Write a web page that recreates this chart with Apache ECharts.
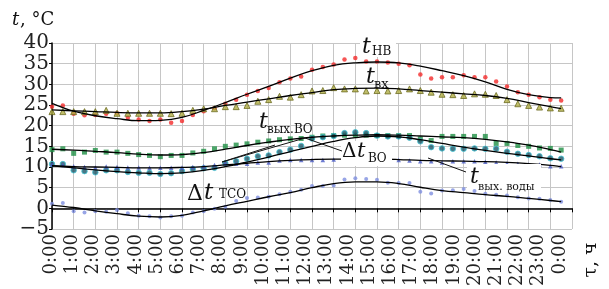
<!DOCTYPE html>
<html>
<head>
<meta charset="utf-8">
<title>t, °C</title>
<script src="https://cdn.jsdelivr.net/npm/echarts@6/dist/echarts.min.js"></script>
<style>
  html, body { margin: 0; padding: 0; background: #fff; }
  #chart { width: 609px; height: 289px; }
</style>
</head>
<body>
<div id="chart"></div>
<script>
// half-hour measurements
var hours = [0,0.5,1,1.5,2,2.5,3,3.5,4,4.5,5,5.5,6,6.5,7,7.5,8,8.5,9,9.5,10,10.5,11,11.5,
             12,12.5,13,13.5,14,14.5,15,15.5,16,16.5,17,17.5,18,18.5,19,19.5,20,20.5,21,21.5,22,22.5,23,23.5];
var tNV = [24.6,24.9,22.9,22.5,22.6,22.9,23.0,21.9,21.5,21.1,21.5,20.7,21.1,22.6,23.5,24.2,25.3,26.3,27.5,28.4,29.1,30.5,31.4,31.9,
           33.5,34.2,34.8,36.0,36.4,35.5,35.5,35.3,35.0,34.6,32.4,31.4,31.7,31.7,32.2,31.7,31.7,30.7,29.5,28.1,27.5,26.9,26.3,26.1];
var tVX = [23.4,23.4,23.4,23.4,23.4,23.7,23.0,23.0,23.0,23.0,23.0,22.9,23.0,23.7,24.1,24.1,24.6,24.6,24.9,25.9,26.3,27.1,26.9,27.5,
           28.4,28.5,29.2,28.9,28.9,28.4,28.5,28.4,28.5,28.9,28.5,28.1,27.6,27.5,27.3,27.7,27.6,27.3,26.3,25.3,24.9,24.5,24.3,24.2];
var tOutVO = [14.2,14.4,13.3,13.6,14.0,13.6,13.6,13.3,13.0,12.8,12.5,12.8,12.8,13.4,13.8,14.4,15.0,15.3,15.6,16.0,16.3,16.6,16.8,16.9,
              17.2,17.5,17.6,17.7,17.7,17.7,17.6,17.6,17.6,17.6,16.8,16.4,17.4,17.4,17.4,17.4,17.4,15.7,15.7,15.2,15.0,14.6,14.5,14.1];
var dtVO = [10.7,10.7,9.2,9.0,8.7,9.2,9.2,8.8,8.6,8.6,8.3,8.5,9.0,9.5,9.7,9.8,10.9,11.4,12.0,12.6,12.8,13.6,14.2,15.1,
            16.9,17.2,17.5,18.2,18.4,18.2,17.6,17.4,17.4,17.1,16.2,14.8,14.5,14.4,14.4,14.5,14.4,14.4,13.7,13.2,12.9,12.6,12.1,12.0];
var tOutWater = [10.6,10.5,10.2,10.0,9.9,10.1,10.0,9.9,9.9,9.8,9.8,9.8,9.9,10.0,10.2,10.5,10.9,10.8,10.8,11.1,11.1,11.6,11.7,11.7,
                 11.7,11.7,11.8,11.8,11.8,11.8,11.7,11.7,11.7,11.6,11.4,11.4,11.1,11.4,11.4,11.4,11.3,11.1,10.9,10.8,10.6,10.6,10.2,10.2];
var dtTSO = [1.1,1.3,-0.7,-1.0,-0.7,-0.8,-0.4,-1.2,-1.8,-1.9,-2.2,-1.9,-1.8,-1.0,-0.7,-0.1,0.4,1.8,2.5,2.6,2.8,3.4,4.0,4.5,
             5.4,5.4,5.5,7.0,7.3,7.1,6.9,6.2,6.1,6.1,4.0,3.6,4.3,4.4,4.7,4.2,3.5,3.3,3.1,2.7,2.4,2.3,2.0,1.6];

// trend curves
var curveHours = [0,1,2,3,4,5,6,7,8,9,10,11,12,13,14,15,16,17,18,19,20,21,22,23,23.5];
var tNVCurve = [25.4,23.5,22.4,21.7,21.2,21.3,22.0,23.7,25.6,27.6,29.5,31.5,33.3,34.6,35.2,35.4,35.2,34.4,33.3,32.1,30.6,28.8,27.5,26.8,26.7];
var tVXCurve = [23.8,23.6,23.4,23.2,23.1,23.1,23.4,24.0,24.9,25.7,26.5,27.3,28.0,28.7,29.0,29.1,28.9,28.5,28.1,27.7,27.3,26.6,25.6,24.6,24.1];
var tOutVOCurve = [14.3,14.1,13.8,13.5,13.1,12.9,13.0,13.5,14.3,15.2,16.0,16.7,17.2,17.5,17.7,17.8,17.7,17.5,17.3,17.1,16.7,16.1,15.3,14.2,13.6];
var dtVOCurve = [10.3,9.8,9.3,8.9,8.6,8.4,8.6,9.2,10.1,11.2,12.4,13.7,15.0,16.2,17.1,17.5,17.3,16.6,15.7,14.8,14.0,13.3,12.7,12.0,11.7];
var tOutWaterCurve = [10.3,10.1,10.0,9.9,9.8,9.8,9.9,10.1,10.5,10.9,11.3,11.6,11.8,11.9,11.9,11.9,11.8,11.6,11.5,11.4,11.3,11.1,10.8,10.4,10.1];
var dtTSOCurve = [0.8,0.2,-0.6,-1.3,-1.9,-2.1,-1.7,-0.6,0.6,1.7,2.8,3.8,5.0,6.0,6.4,6.4,6.0,5.1,4.3,3.8,3.3,2.9,2.4,1.9,1.6];

var FONT = 'DejaVu Serif';

function pairs(xs, ys) {
    return ys.map(function (v, i) { return [xs[i], v]; });
}
function points(name, ys, symbol, size, color, border) {
    return {
        name: name, type: 'scatter', data: pairs(hours, ys),
        symbol: symbol, symbolSize: size, z: 2,
        itemStyle: { color: color, borderColor: border || color, borderWidth: border ? 1 : 0 }
    };
}
function trend(ys) {
    return {
        type: 'line', data: pairs(curveHours, ys), smooth: 0.4, showSymbol: false, z: 3,
        lineStyle: { color: '#000', width: 1.3 }
    };
}
function label(x, y, text, size, italic) {
    return { type: 'text', x: x, y: y, z: 20,
        style: { text: text, font: (italic ? 'italic ' : '') + size + 'px "' + FONT + '"', fill: '#111',
                 textAlign: 'left', textVerticalAlign: 'bottom', align: 'left', verticalAlign: 'bottom' } };
}
function whiteBox(x, y, w, h) {
    return { type: 'rect', z: 15, shape: { x: x, y: y, width: w, height: h }, style: { fill: '#fff' } };
}
function leader(x1, y1, x2, y2) {
    return { type: 'line', z: 16, shape: { x1: x1, y1: y1, x2: x2, y2: y2 }, style: { stroke: '#111', lineWidth: 1 } };
}

var myChart = echarts.init(document.getElementById('chart'));
var option = {
    animation: false,
    grid: [
        { left: 52, top: 43, width: 520, height: 186 },
        { left: 51, top: 43, width: 509, height: 186 }
    ],
    xAxis: [
        { gridIndex: 0, type: 'value', min: 0, max: 24, interval: 1,
          axisLine: { onZero: true, lineStyle: { color: '#000', width: 1.5 } },
          axisTick: { show: true, length: 4, lineStyle: { color: '#000', width: 1 } },
          axisLabel: { show: false },
          splitLine: { show: true, lineStyle: { color: '#c6c6c6', width: 1 } } },
        { gridIndex: 1, type: 'value', min: 0, max: 24, interval: 1,
          axisLine: { show: false }, axisTick: { show: false }, splitLine: { show: false },
          axisLabel: { rotate: 90, margin: 7, fontFamily: FONT, fontSize: 18, color: '#222',
                       formatter: function (v) { return (v % 24) + ':00'; } } }
    ],
    yAxis: [
        { gridIndex: 0, type: 'value', min: -5, max: 40, interval: 5,
          axisLine: { show: true, onZero: false, lineStyle: { color: '#000', width: 1.5 } },
          axisTick: { show: true, length: 3, lineStyle: { color: '#000' } },
          axisLabel: { margin: 3, fontFamily: FONT, fontSize: 20, color: '#222',
                       formatter: function (v) { return String(v).replace('-', '\u2212'); } },
          splitLine: { show: true, lineStyle: { color: '#c6c6c6', width: 1 } } },
        { gridIndex: 1, type: 'value', min: -5, max: 40, show: false }
    ],
    series: [
        points('tНВ', tNV, 'circle', 4.5, '#f42a2a'),
        points('tвх', tVX, 'triangle', 6, '#b0ae45', '#6d6c22'),
        points('tвых.ВО', tOutVO, 'rect', 5, '#1f9045'),
        points('ΔtВО', dtVO, 'circle', 5.5, '#1d5566', '#45c6d6'),
        points('tвых.воды', tOutWater, 'triangle', 4.5, '#4a5bc6'),
        points('ΔtТСО', dtTSO, 'circle', 4, '#7e8ee0'),
        trend(tNVCurve), trend(tVXCurve), trend(tOutVOCurve),
        trend(dtVOCurve), trend(tOutWaterCurve), trend(dtTSOCurve)
    ],
    graphic: [
        // axis titles
        label(12, 29, 't', 18, true),
        label(20, 29, ', °C', 18, false),
        { type: 'text', x: 591, y: 260, rotation: Math.PI / 2, z: 20,
          style: { text: 'τ, ч', font: '19px "' + FONT + '"', fill: '#111',
                   textAlign: 'center', textVerticalAlign: 'middle', align: 'center', verticalAlign: 'middle' } },
        // series annotations
        whiteBox(360, 31, 36, 26),
        label(362, 58, 't', 22, true), label(372, 58, 'НВ', 12, false),
        label(366, 88, 't', 22, true), label(374, 91, 'вх', 13, false),
        label(259, 133, 't', 22, true), label(267, 136, 'вых.ВО', 12, false),
        whiteBox(341, 141, 51, 25),
        label(342, 162, 'Δ', 20, false), label(357, 162, 't', 21, true), label(368, 165, 'ВО', 12, false),
        leader(305, 138, 342, 151),
        leader(222, 162, 275, 145),
        leader(222, 162, 305, 138),
        whiteBox(467, 164, 74, 25),
        leader(428, 158, 466, 172),
        label(470, 188, 't', 22, true), label(478, 193, 'вых. воды', 11, false),
        label(187, 205, 'Δ', 22, false), label(204, 205, 't', 23, true), label(219, 201, 'ТСО', 12, false)
    ]
};
myChart.setOption(option);
</script>
</body>
</html>
